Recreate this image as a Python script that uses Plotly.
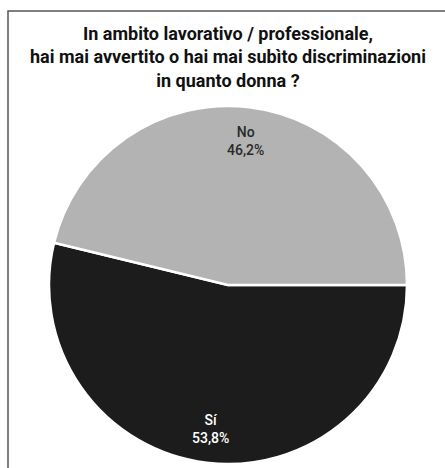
import math
import plotly.graph_objects as go

# Survey answers and their shares (percent)
labels = ["Sí", "No"]
values = [53.8, 46.2]
value_texts = ["53,8%", "46,2%"]
slice_colors = ["#1c1c1c", "#b3b3b3"]
text_colors = ["#ffffff", "#2a2a2a"]

W, H = 445, 468
CX, CY, R = 228, 285, 179          # pie centre and radius in pixels
START = 90                          # first slice starts at 3 o'clock (deg clockwise from 12)
LABEL_R = 0.81                      # label distance from centre, as a fraction of R

fig = go.Figure(
    go.Pie(
        labels=labels,
        values=values,
        textinfo="none",
        sort=False,
        direction="clockwise",
        rotation=START,
        marker=dict(colors=slice_colors, line=dict(color="#ffffff", width=2.5)),
        hoverinfo="label+percent",
        showlegend=False,
        domain=dict(x=[(CX - R) / W, (CX + R) / W], y=[1 - (CY + R) / H, 1 - (CY - R) / H]),
    )
)

# Category / percentage labels, placed at each slice's mid-angle
total = sum(values)
cum = 0.0
annotations = []
for lab, val, vt, col in zip(labels, values, value_texts, text_colors):
    mid = START + 360 * (cum + val / 2) / total
    cum += val
    t = math.radians(mid)
    px = CX + LABEL_R * R * math.sin(t)
    py = CY - LABEL_R * R * math.cos(t)
    annotations.append(dict(
        x=px / W, y=1 - py / H, xref="paper", yref="paper",
        text=f"{lab}<br>{vt}", showarrow=False, align="center",
        xanchor="center", yanchor="middle",
        font=dict(family="Roboto", size=14, color=col, weight=500),
    ))

annotations.append(dict(
    x=228 / W, y=1 - 21 / H, xref="paper", yref="paper",
    xanchor="center", yanchor="top", showarrow=False, align="center",
    text="In ambito lavorativo / professionale,<br>"
         "hai mai avvertito o hai mai subìto discriminazioni<br>"
         "in quanto donna ?",
    font=dict(family="Roboto", size=18, color="#111111", weight="bold"),
))

fig.update_layout(
    width=W,
    height=H,
    margin=dict(l=0, r=0, t=0, b=0),
    paper_bgcolor="#ffffff",
    annotations=annotations,
    shapes=[
        dict(
            type="path",
            xref="paper",
            yref="paper",
            path=f"M {8 / W} 0 L {8 / W} {1 - 11 / H} L 1 {1 - 11 / H}",
            line=dict(color="#555555", width=1.5),
        )
    ],
)

fig.write_html("out.html")
